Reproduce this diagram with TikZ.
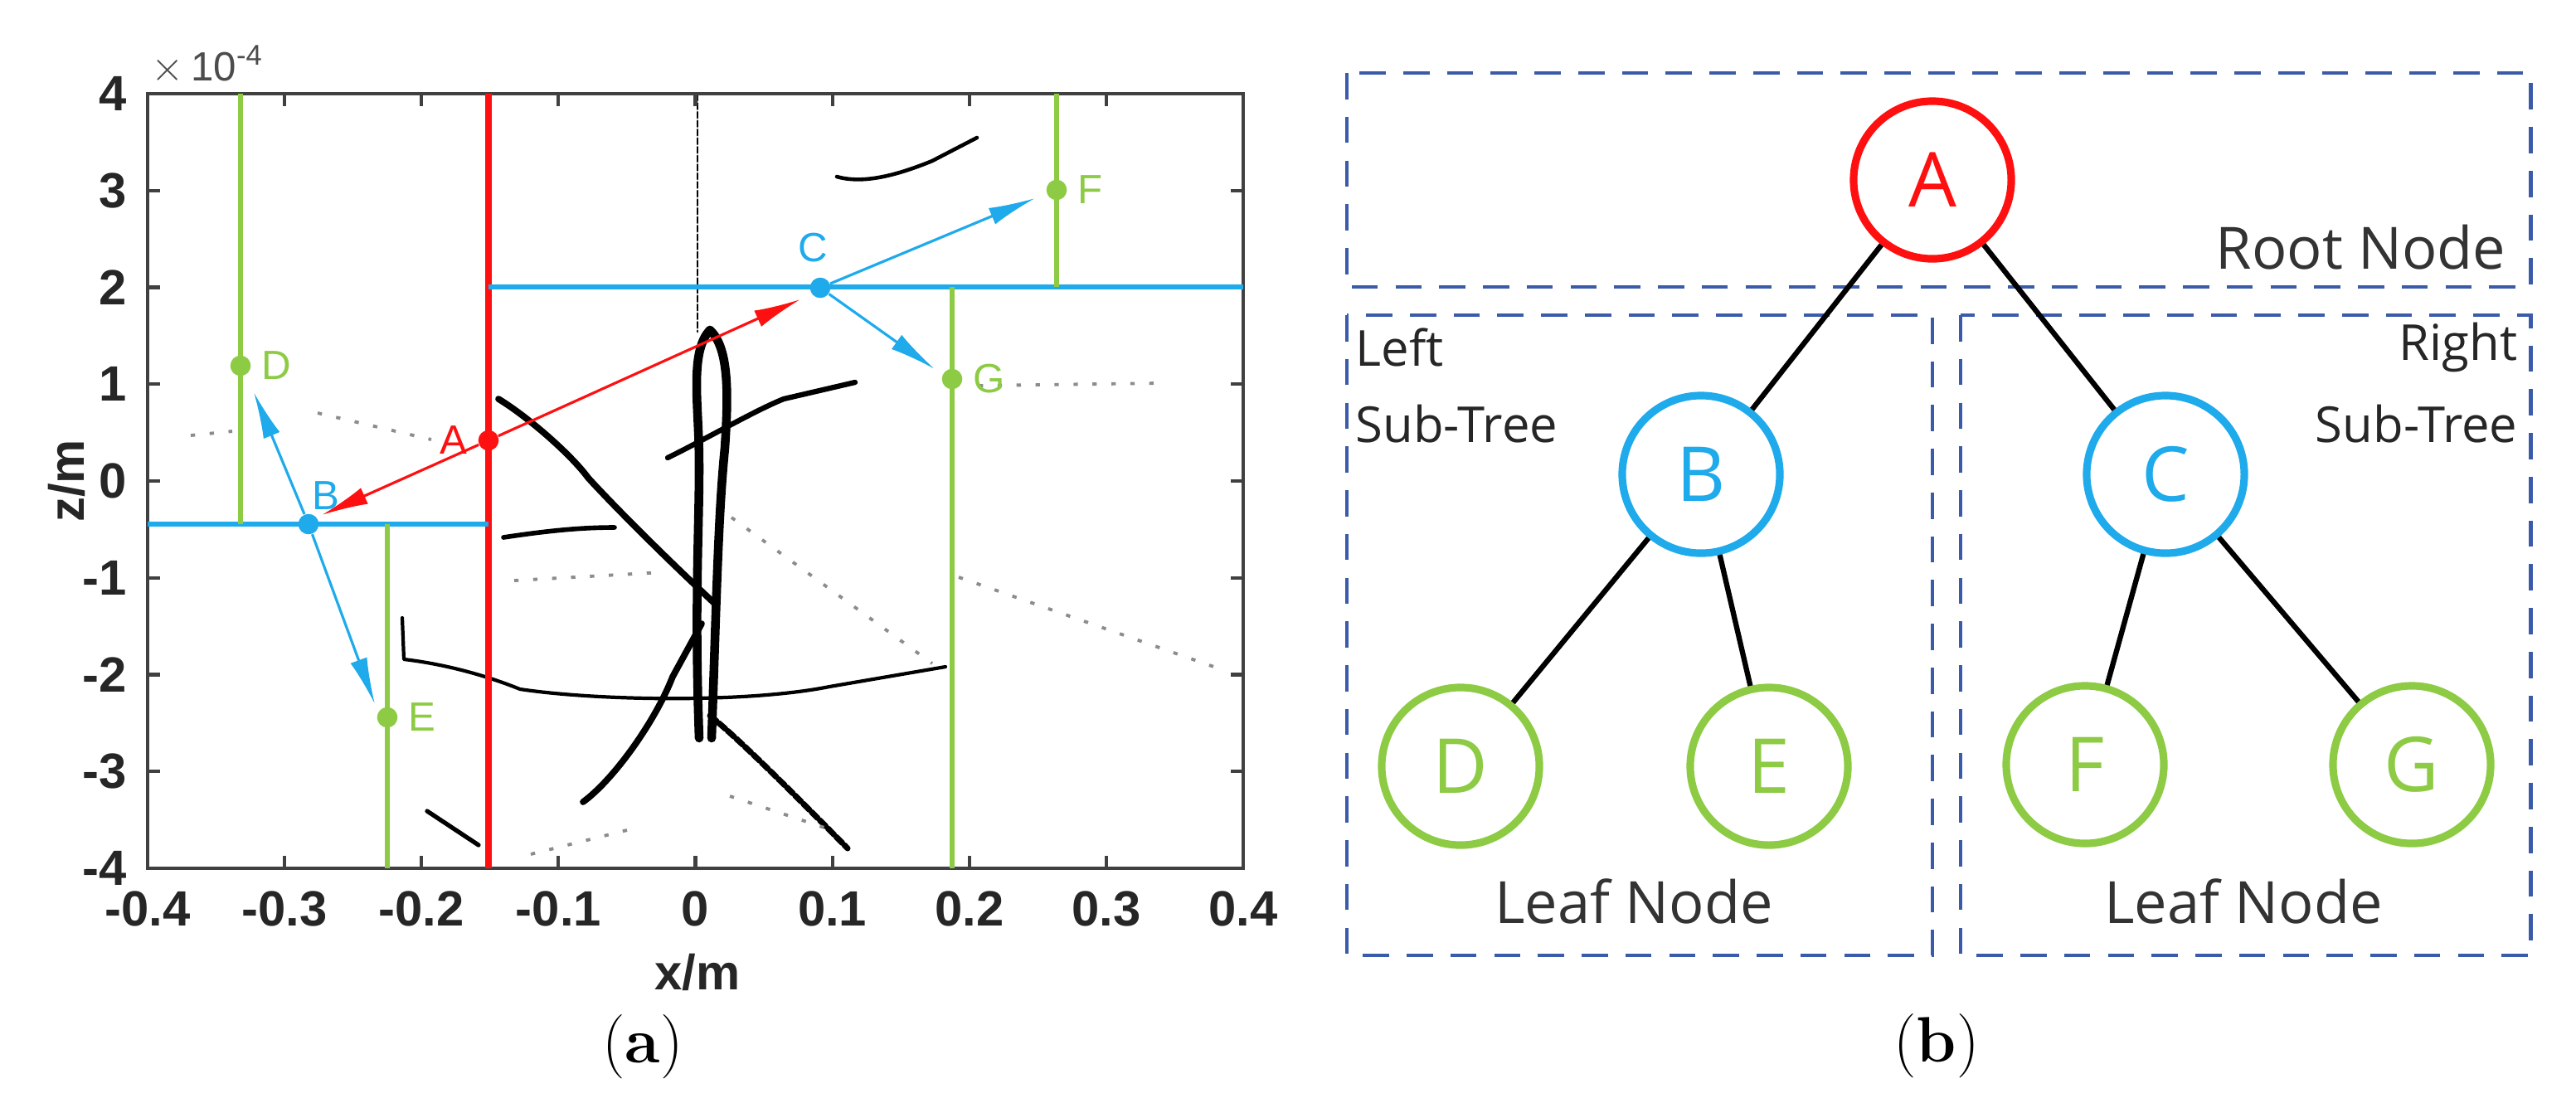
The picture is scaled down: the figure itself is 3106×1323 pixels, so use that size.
\documentclass[tikz,border=0pt]{standalone}
\usepackage{fontspec}
\setmainfont{Latin Modern Roman}
\newfontfamily\plotfont{Liberation Sans}
\newfontfamily\treefont{Open Sans}
\usetikzlibrary{arrows.meta}
\definecolor{pred}{HTML}{FF1010}
\definecolor{pblue}{HTML}{1EAAEB}
\definecolor{pgreen}{HTML}{8DCB45}
\definecolor{dbox}{HTML}{3A5AAA}
\begin{document}
\begin{tikzpicture}[x=0.01cm,y=-0.01cm,
  tick/.style={font=\plotfont\bfseries\fontsize{17}{17}\selectfont,text=black!85},
  vred/.style={pred,line width=2.4pt},
  hblue/.style={pblue,line width=1.9pt},
  vgreen/.style={pgreen,line width=1.6pt},
  dot/.style={circle,inner sep=0pt,minimum size=7pt},
  plab/.style={font=\plotfont\fontsize{14}{14}\selectfont},
  arr/.style={line width=0.9pt,-{Latex[length=16pt,width=6pt]}},
  cloud/.style={black,line cap=round,line join=round},
  faint/.style={black!45,line width=1.1pt,dash pattern=on 1.5pt off 5pt},
  tn/.style={circle,line width=2.6pt,minimum size=1.9cm,inner sep=0pt,font=\treefont\fontsize{26}{26}\selectfont},
  edge/.style={black,line width=1.8pt},
  box/.style={dbox,line width=1.4pt,dash pattern=on 9pt off 6pt},
  tt/.style={font=\treefont\fontsize{20}{20}\selectfont,text=black!80,inner sep=0pt},
  st/.style={font=\treefont\fontsize{17}{17}\selectfont,text=black!85,inner sep=0pt}]
\useasboundingbox (0,0) rectangle (3106,1323);
% ---------- panel (a) ----------
\draw[cloud,line width=0.8pt,dash pattern=on 2pt off 1pt] (841,114) -- (841,400);
\draw[cloud,line width=3pt] (856,398) .. controls (835,420) and (840,470) .. (842,520) .. controls (846,600) and (836,700) .. (843,890);
\draw[cloud,line width=3pt] (856,398) .. controls (880,420) and (878,480) .. (874,540) .. controls (866,620) and (864,720) .. (858,890);
\draw[cloud,line width=2.2pt] (601,481) .. controls (640,505) and (690,550) .. (709,576) .. controls (740,610) and (800,670) .. (862,728);
\draw[cloud,line width=1.8pt] (805,552) .. controls (850,530) and (910,495) .. (945,481) -- (1031,461);
\draw[cloud,line width=2.2pt] (703,967) .. controls (740,940) and (790,870) .. (811,816) -- (846,752);
\draw[cloud,line width=2pt,dash pattern=on 3pt off 1pt] (856,863) .. controls (890,890) and (960,960) .. (1022,1023);
\draw[cloud,line width=1.2pt] (485,745) -- (487,795) .. controls (530,800) and (580,812) .. (627,831) .. controls (720,845) and (900,848) .. (1000,828) -- (1140,804);
\draw[cloud,line width=1.3pt] (1009,213) .. controls (1040,222) and (1080,212) .. (1124,194) -- (1178,166);
\draw[cloud,line width=1.6pt] (607,648) .. controls (660,640) and (700,636) .. (741,636);
\draw[cloud,line width=1.5pt] (515,978) -- (577,1019);
\draw[faint] (383,498) -- (520,530);
\draw[faint] (230,525) -- (280,520);
\draw[faint] (882,624) -- (1124,800);
\draw[faint] (1156,696) -- (1475,808);
\draw[faint] (1180,465) -- (1400,462);
\draw[faint] (620,700) -- (800,690);
\draw[faint] (640,1030) -- (760,1000);
\draw[faint] (880,960) -- (1000,1000);
\draw[black!75,line width=1.2pt] (178,113) rectangle (1499,1047);
\foreach \i/\l in {0/-0.4,1/-0.3,2/-0.2,3/-0.1,4/0,5/0.1,6/0.2,7/0.3,8/0.4}{
  \pgfmathsetmacro\xx{178+165.125*\i}
  \draw[black!75,line width=1.2pt] (\xx,1047) -- (\xx,1032) (\xx,113) -- (\xx,128);
  \node[tick,anchor=north] (xt\i) at (\xx,1062) {\l};}
\foreach \i/\l in {0/4,1/3,2/2,3/1,4/0,5/-1,6/-2,7/-3,8/-4}{
  \pgfmathsetmacro\yy{113+116.75*\i}
  \draw[black!75,line width=1.2pt] (178,\yy) -- (193,\yy) (1499,\yy) -- (1484,\yy);
  \node[tick,anchor=east] (yt\i) at (165,\yy) {\l};}
\node[plab,text=black!70,anchor=south west,inner sep=0pt] (exp) at (182,102) {$\times$\,10\textsuperscript{-4}};
\node[tick,rotate=90] (zl) at (80,580) {z/m};
\node[tick] (xl) at (841,1172) {x/m};
\draw[vred] (589,113) -- (589,1047);
\draw[hblue] (589,346) -- (1499,346);
\draw[hblue] (178,632) -- (589,632);
\draw[vgreen] (290,113) -- (290,632);
\draw[vgreen] (467,632) -- (467,1047);
\draw[vgreen] (1274,113) -- (1274,346);
\draw[vgreen] (1148,346) -- (1148,1047);
\node[dot,fill=pred] (pA) at (589,531) {};
\node[dot,fill=pblue] (pB) at (372,632) {};
\node[dot,fill=pblue] (pC) at (989,347) {};
\node[dot,fill=pgreen] (pD) at (290,441) {};
\node[dot,fill=pgreen] (pE) at (467,865) {};
\node[dot,fill=pgreen] (pF) at (1274,229) {};
\node[dot,fill=pgreen] (pG) at (1148,457) {};
\node[plab,text=pred,anchor=east] at (pA.west) {A};
\node[plab,text=pblue,anchor=south west,inner sep=1pt] at (pB.north) {B};
\node[plab,text=pblue,anchor=south,inner sep=6pt] at (pC.north west) {C};
\node[plab,text=pgreen,anchor=west] at (pD.east) {D};
\node[plab,text=pgreen,anchor=west] at (pE.east) {E};
\node[plab,text=pgreen,anchor=west] at (pF.east) {F};
\node[plab,text=pgreen,anchor=west] at (pG.east) {G};
\coordinate (tAB) at (388,621);
\coordinate (tAC) at (965,361);
\coordinate (tBD) at (306,473);
\coordinate (tBE) at (452,849);
\coordinate (tCF) at (1248,239);
\coordinate (tCG) at (1127,445);
\draw[arr,pred] (pA) -- (tAB);
\draw[arr,pred] (pA) -- (tAC);
\draw[arr,pblue] (pB) -- (tBD);
\draw[arr,pblue] (pB) -- (tBE);
\draw[arr,pblue] (pC) -- (tCF);
\draw[arr,pblue] (pC) -- (tCG);
\node (capa) at (775,1262) {\fontsize{22}{22}\selectfont(\textbf{a})};
% ---------- panel (b) ----------
\draw[box] (1624,88) rectangle (3051,346);
\draw[box] (1624,380) rectangle (2330,1152);
\draw[box] (2364,380) rectangle (3051,1152);
\node[tn,draw=pred,text=pred] (A) at (2330,217) {A};
\node[tn,draw=pblue,text=pblue] (B) at (2051,572) {B};
\node[tn,draw=pblue,text=pblue] (C) at (2611,572) {C};
\node[tn,draw=pgreen,text=pgreen] (D) at (1761,924) {D};
\node[tn,draw=pgreen,text=pgreen] (E) at (2133,924) {E};
\node[tn,draw=pgreen,text=pgreen] (F) at (2514,922) {F};
\node[tn,draw=pgreen,text=pgreen] (G) at (2908,922) {G};
\draw[edge] (A) -- (B);
\draw[edge] (A) -- (C);
\draw[edge] (B) -- (D);
\draw[edge] (B) -- (E);
\draw[edge] (C) -- (F);
\draw[edge] (C) -- (G);
\node[tt,anchor=east] (root) at (3022,298) {Root Node};
\node[st,anchor=west] (l1) at (1634,419) {Left};
\node[st,anchor=west] (l2) at (1634,511) {Sub-Tree};
\node[st,anchor=east] (r1) at (3036,419) {Right};
\node[st,anchor=east] (r2) at (3036,511) {Sub-Tree};
\node[tt] (lf1) at (1970,1087) {Leaf Node};
\node[tt] (lf2) at (2705,1087) {Leaf Node};
\node (capb) at (2335,1261) {\fontsize{22}{22}\selectfont(\textbf{b})};
\end{tikzpicture}
\end{document}
